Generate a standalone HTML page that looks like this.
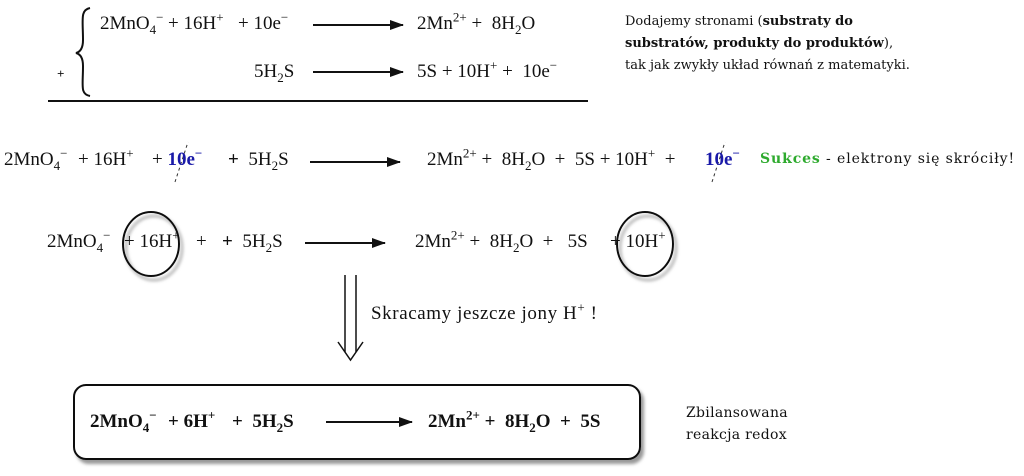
<!DOCTYPE html>
<html><head><meta charset="utf-8"><style>
body{margin:0;width:1024px;height:476px;background:#fff;position:relative;overflow:hidden;font-family:"Liberation Serif","DejaVu Serif",serif;color:#111}
.t{position:absolute;white-space:nowrap;font-size:19px;line-height:22px}
sub,sup{font-size:13px;line-height:0}
.n{font-family:"DejaVu Serif","Liberation Serif",serif;font-size:13px;line-height:22px}
.b{font-weight:bold}
.blue{color:#1a1aa8;font-weight:bold}
svg{position:absolute;left:0;top:0}
</style></head><body>
<svg width="1024" height="476">
<defs><marker id="a" markerWidth="14" markerHeight="10" refX="13" refY="5" orient="auto" markerUnits="userSpaceOnUse"><path d="M0,0L14,5L0,10z" fill="#111"/></marker>
<filter id="s"><feDropShadow dx="3" dy="4" stdDeviation="1.5" flood-color="#999"/></filter></defs>
<path d="M90,8 C80,10 83,20 83,40 C83,48 80,52 76,53 C80,54 83,58 83,66 C83,86 80,94 90,96" fill="none" stroke="#111" stroke-width="2"/>
<line x1="48" y1="101" x2="588" y2="101" stroke="#111" stroke-width="2"/>
<g filter="url(#s)" fill="none" stroke="#111" stroke-width="2">
<ellipse cx="151" cy="244" rx="28" ry="32"/><ellipse cx="645" cy="244" rx="28" ry="32"/>
<rect x="74" y="385" width="566" height="74" rx="12" fill="#fff"/>
</g>
<g stroke="#111" stroke-width="2" marker-end="url(#a)">
<line x1="313" y1="25" x2="403" y2="25"/><line x1="313" y1="72" x2="403" y2="72"/>
<line x1="310" y1="162" x2="400" y2="162"/><line x1="305" y1="243" x2="385" y2="243"/>
<line x1="326" y1="422" x2="412" y2="422"/></g>
<line x1="175" y1="182" x2="188" y2="142" stroke="#333" stroke-dasharray="3,3"/>
<line x1="712" y1="182" x2="725" y2="142" stroke="#333" stroke-dasharray="3,3"/>
<g stroke="#111" stroke-width="1.5" fill="none">
<line x1="345" y1="275" x2="345" y2="352"/><line x1="356" y1="275" x2="356" y2="352"/>
<path d="M338,342L350.5,360L363,342"/>
</g>
</svg>
<div class="t" style="left:100px;top:13px">2MnO<sub>4</sub><sup>−</sup></div>
<div class="t" style="left:168px;top:13px">+ 16H<sup>+</sup></div>
<div class="t" style="left:238px;top:13px">+ 10e<sup>−</sup></div>
<div class="t" style="left:417px;top:13px">2Mn<sup>2+</sup> + &nbsp;8H<sub>2</sub>O</div>
<div class="t b" style="left:57px;top:63px;font-size:13px">+</div>
<div class="t" style="left:254px;top:61px">5H<sub>2</sub>S</div>
<div class="t" style="left:417px;top:61px">5S + 10H<sup>+</sup> + &nbsp;10e<sup>−</sup></div>
<div class="t n" style="left:625px;top:11px">Dodajemy stronami (<b>substraty do</b><br><b>substratów, produkty do produktów</b>),<br>tak jak zwykły układ równań z matematyki.</div>

<div class="t" style="left:4px;top:149px">2MnO<sub>4</sub><sup>−</sup></div>
<div class="t" style="left:78px;top:149px">+ 16H<sup>+</sup></div>
<div class="t" style="left:152px;top:149px">+ <span class="blue">10e<sup>−</sup></span></div>
<div class="t" style="left:228px;top:149px"><b>+</b> &nbsp;5H<sub>2</sub>S</div>
<div class="t" style="left:427px;top:149px">2Mn<sup>2+</sup> + &nbsp;8H<sub>2</sub>O &nbsp;+ &nbsp;5S + 10H<sup>+</sup> &nbsp;+</div>
<div class="t" style="left:705px;top:149px"><span class="blue">10e<sup>−</sup></span></div>
<div class="t n" style="left:760px;top:148px;font-size:14px;letter-spacing:0.9px"><b style="color:#2eaa2e">Sukces</b> - elektrony się skróciły!</div>

<div class="t" style="left:47px;top:231px">2MnO<sub>4</sub><sup>−</sup></div>
<div class="t" style="left:124px;top:231px">+ 16H<sup>+</sup></div>
<div class="t" style="left:196px;top:231px">+</div>
<div class="t" style="left:222px;top:231px"><b>+</b> &nbsp;5H<sub>2</sub>S</div>
<div class="t" style="left:415px;top:231px">2Mn<sup>2+</sup> + &nbsp;8H<sub>2</sub>O &nbsp;+ &nbsp;&nbsp;5S</div>
<div class="t" style="left:610px;top:231px">+ 10H<sup>+</sup></div>

<div class="t" style="left:371px;top:303px;font-size:19px;letter-spacing:0.6px">Skracamy jeszcze jony H<sup>+</sup> !</div>

<div class="t b" style="left:90px;top:411px">2MnO<sub>4</sub><sup>−</sup></div>
<div class="t b" style="left:168px;top:411px">+ 6H<sup>+</sup></div>
<div class="t b" style="left:232px;top:411px">+ &nbsp;5H<sub>2</sub>S</div>
<div class="t b" style="left:428px;top:411px">2Mn<sup>2+</sup> + &nbsp;8H<sub>2</sub>O &nbsp;+ &nbsp;5S</div>
<div class="t n" style="left:686px;top:402px;font-size:14px;letter-spacing:0.3px">Zbilansowana<br>reakcja redox</div>
</body></html>
